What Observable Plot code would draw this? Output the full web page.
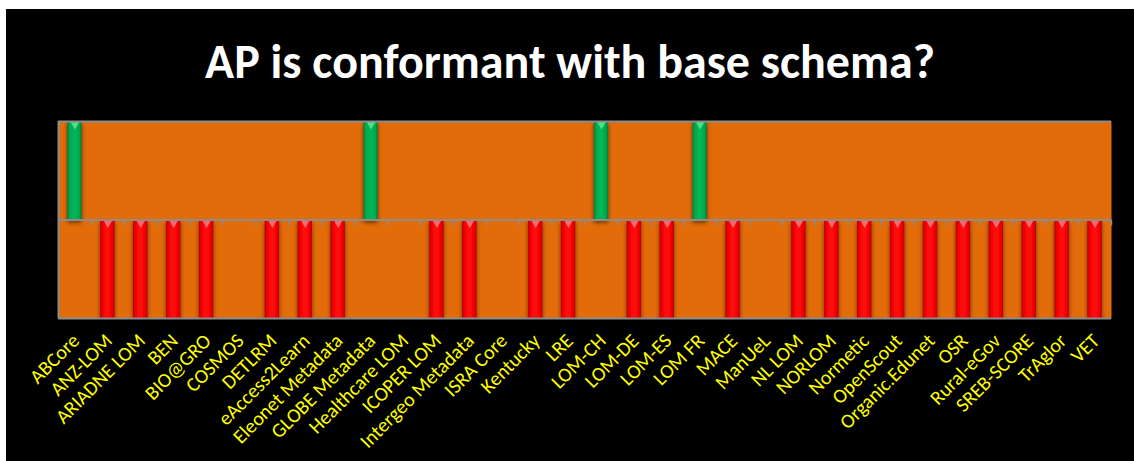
<!DOCTYPE html>
<html>
<head>
<meta charset="utf-8">
<script src="https://cdn.jsdelivr.net/npm/d3@7"></script>
<script src="https://cdn.jsdelivr.net/npm/@observablehq/plot@0.6"></script>
<style>
  html, body { margin: 0; padding: 0; background: #ffffff; }
  #slide {
    position: absolute; left: 6px; top: 9px;
    width: 1128px; height: 452px; background: #000000; overflow: hidden;
  }
  #title {
    position: absolute; left: 0; top: 26px; width: 1128px;
    text-align: center; color: #ffffff;
    font-family: Carlito, Lato, "Open Sans", sans-serif;
    font-weight: bold; font-size: 48px; line-height: 54px;
  }
  #chart { position: absolute; left: 0; top: 100px; }
</style>
</head>
<body>
<div id="slide">
  <div id="title">AP is conformant with base schema?</div>
  <div id="chart"></div>
</div>
<script>
// Application profiles, in display order
const profiles = [
  "ABCore", "ANZ-LOM", "ARIADNE LOM", "BEN", "BIO@GRO", "COSMOS", "DETLRM",
  "eAccess2Learn", "Eleonet Metadata", "GLOBE Metadata", "Healthcare LOM",
  "ICOPER LOM", "Intergeo Metadata", "ISRA Core", "Kentucky", "LRE", "LOM-CH",
  "LOM-DE", "LOM-ES", "LOM FR", "MACE", "ManUeL", "NL LOM", "NORLOM",
  "Normetic", "OpenScout", "Organic.Edunet", "OSR", "Rural-eGov",
  "SREB-SCORE", "TrAglor", "VET"
];
// 1 = conformant, -1 = not conformant, 0 = no answer
const conformant = [
  1, -1, -1, -1, -1, 0, -1,
  -1, -1, 1, 0,
  -1, -1, 0, -1, -1, 1,
  -1, -1, 1, -1, 0, -1, -1,
  -1, -1, -1, -1, -1,
  -1, -1, -1
];

const rows = profiles.map((name, i) => ({name, value: conformant[i]}));
const answered = rows.filter(d => d.value !== 0);

const W = 1128, H = 352;
const mL = 52, mR = 23, mT = 12, mB = 143;
const step = (W - mL - mR) / profiles.length;

const orange = "#E36C0A";
const grey = "#8C8C8C";

const svg = Plot.plot({
  width: W,
  height: H,
  marginLeft: mL,
  marginRight: mR,
  marginTop: mT,
  marginBottom: mB,
  style: {background: "transparent", color: "#FFFF00", fontFamily: "Carlito, Lato, 'Open Sans', sans-serif"},
  x: {domain: profiles, paddingInner: 0.56, paddingOuter: 0.28, round: false, label: null},
  y: {domain: [-1, 1], axis: null},
  marks: [
    Plot.frame({fill: orange, stroke: null}),
    Plot.barY(answered, {
      x: "name", y1: 0, y2: "value",
      fill: d => d.value > 0 ? "url(#barGreen)" : "url(#barRed)"
    }),
    Plot.dot(answered, {
      x: "name", y: d => Math.max(0, d.value),
      symbol: "triangle", rotate: 180, r: 3.2, dy: 3,
      fill: d => d.value > 0 ? "#4FE08C" : "#FF6A6A", stroke: null
    }),
    Plot.ruleY([-1, 0, 1], {stroke: grey, strokeWidth: 2}),
    Plot.ruleX([profiles[0]], {dx: -step / 2, y1: -1, y2: 1, stroke: grey, strokeWidth: 2}),
    Plot.ruleX(profiles, {dx: step / 2, y1: 0, y2: 0, insetBottom: -6, stroke: grey, strokeWidth: 1.5}),
    Plot.axisX({tickRotate: -45, tickSize: 0, tickPadding: 19, dx: 1, fontSize: 20, fill: "#FFFF00", label: null})
  ]
});

// cylinder-style shading and soft shadow for the bars
const defs = d3.select(svg).insert("defs", ":first-child");
function cylinder(id, edge, mid, center) {
  const g = defs.append("linearGradient").attr("id", id).attr("x1", 0).attr("x2", 1).attr("y1", 0).attr("y2", 0);
  [[0, edge], [0.16, mid], [0.5, center], [0.84, mid], [1, edge]].forEach(([o, c]) =>
    g.append("stop").attr("offset", o).attr("stop-color", c));
}
cylinder("barGreen", "#0E7038", "#00A84D", "#00B856");
cylinder("barRed", "#B00000", "#F20000", "#FF1010");
const f = defs.append("filter").attr("id", "barShadow").attr("x", "-50%").attr("y", "-10%").attr("width", "200%").attr("height", "130%");
f.append("feDropShadow").attr("dx", 0).attr("dy", 3).attr("stdDeviation", 2).attr("flood-color", "#000").attr("flood-opacity", 0.55);
d3.select(svg).selectAll("g[aria-label='bar']").attr("filter", "url(#barShadow)");

document.getElementById("chart").appendChild(svg);
</script>
</body>
</html>
